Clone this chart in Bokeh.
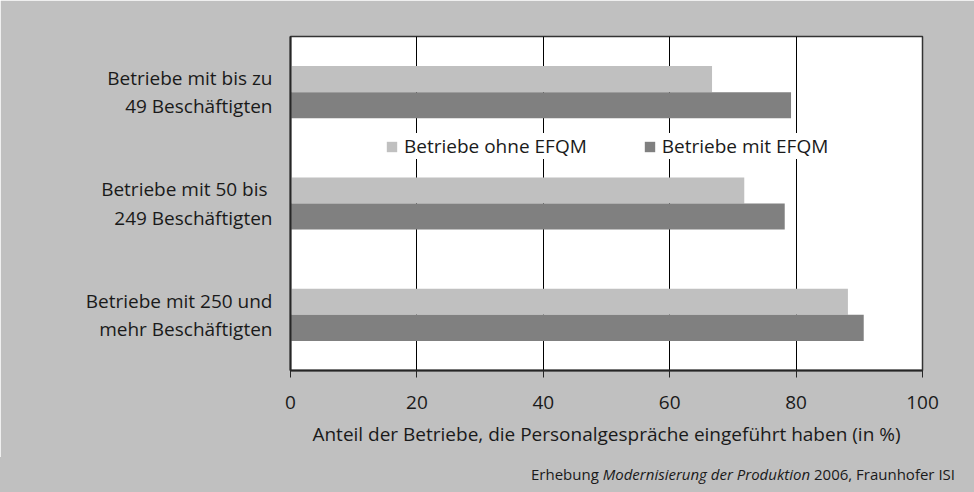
from bokeh.plotting import figure
from bokeh.models import ColumnDataSource, FactorRange, Legend, LegendItem, FixedTicker, Div
from bokeh.layouts import column
from bokeh.transform import dodge
from bokeh.embed import file_html
from bokeh.resources import INLINE

# ---- data ----
categories = [
    "Betriebe mit bis zu\n49 Beschäftigten",
    "Betriebe mit  50 bis\n249 Beschäftigten",
    "Betriebe mit 250 und\nmehr Beschäftigten",
]
ohne_efqm = [66.7, 71.8, 88.2]
mit_efqm = [79.2, 78.2, 90.7]
series_names = ["Betriebe ohne EFQM", "Betriebe mit EFQM"]
x_ticks = [0, 20, 40, 60, 80, 100]
x_title = "Anteil der Betriebe, die Personalgespräche eingeführt haben (in %)"
source_parts = ["Erhebung", "Modernisierung der Produktion", "2006, Fraunhofer ISI"]

FONT = "Open Sans"
TXT = "#1a1a1a"
LIGHT = "#c0c0c0"
DARK = "#808080"

src = ColumnDataSource(dict(cat=categories, ohne=ohne_efqm, mit=mit_efqm))

p = figure(
    y_range=FactorRange(factors=list(reversed(categories))),
    x_range=(0, 100),
    frame_width=632, frame_height=334,
    min_border_left=290, min_border_right=52, min_border_top=36, min_border_bottom=88,
    output_backend="svg", toolbar_location=None,
    border_fill_color=LIGHT, background_fill_color="white",
    outline_line_color="#333333", outline_line_width=1.5,
)

r1 = p.hbar(y=dodge("cat", 0.117, range=p.y_range), right="ohne", left=0, height=0.234,
            source=src, fill_color=LIGHT, line_color=None)
r2 = p.hbar(y=dodge("cat", -0.117, range=p.y_range), right="mit", left=0, height=0.234,
            source=src, fill_color=DARK, line_color=None)

# axes
xa = p.xaxis[0]
xa.ticker = FixedTicker(ticks=x_ticks)
xa.minor_tick_line_color = None
xa.major_tick_out = 7
xa.major_tick_in = 0
xa.major_tick_line_color = "#262626"
xa.axis_line_color = "#262626"
xa.axis_line_width = 2
xa.major_label_text_font = FONT
xa.major_label_text_font_size = "19px"
xa.major_label_text_color = TXT
xa.major_label_standoff = 18
xa.axis_label = x_title
xa.axis_label_text_font = FONT
xa.axis_label_text_font_size = "19px"
xa.axis_label_text_font_style = "normal"
xa.axis_label_text_color = TXT
xa.axis_label_standoff = 9

ya = p.yaxis[0]
ya.major_tick_line_color = None
ya.minor_tick_line_color = None
ya.axis_line_color = "#262626"
ya.axis_line_width = 2
ya.major_label_text_font = FONT
ya.major_label_text_font_size = "19px"
ya.major_label_text_color = TXT
ya.major_label_text_line_height = 1.1
ya.major_label_standoff = 12
ya.major_label_text_align = "right"

p.xgrid.grid_line_color = "#000000"
p.xgrid.grid_line_width = 1
p.ygrid.grid_line_color = None

# legend
legend = Legend(
    items=[LegendItem(label=series_names[0], renderers=[r1]),
           LegendItem(label=series_names[1], renderers=[r2])],
    orientation="horizontal", location=(95, 211),
    label_text_font=FONT, label_text_font_size="19px", label_text_color=TXT,
    glyph_width=13, glyph_height=13, label_standoff=6, spacing=56,
    padding=6, margin=0, border_line_color=None,
    background_fill_color="white", background_fill_alpha=1.0,
)
p.add_layout(legend, "center")

# source note strip (mixed italic)
note_html = (
    f'<div style="width:974px;height:35px;background:{LIGHT};font-family:\'{FONT}\';'
    f'font-size:15px;color:{TXT};line-height:35px;text-align:right;'
    f'padding-right:19px;box-sizing:border-box;white-space:nowrap;">'
    f'{source_parts[0]} <i>{source_parts[1]}</i> {source_parts[2]}</div>'
)
note = Div(text=note_html, width=974, height=35, margin=(-1, 0, 0, 0),
           styles={"background-color": LIGHT})

layout = column(p, note, spacing=0)
open("out.html", "w").write(file_html(layout, INLINE))
